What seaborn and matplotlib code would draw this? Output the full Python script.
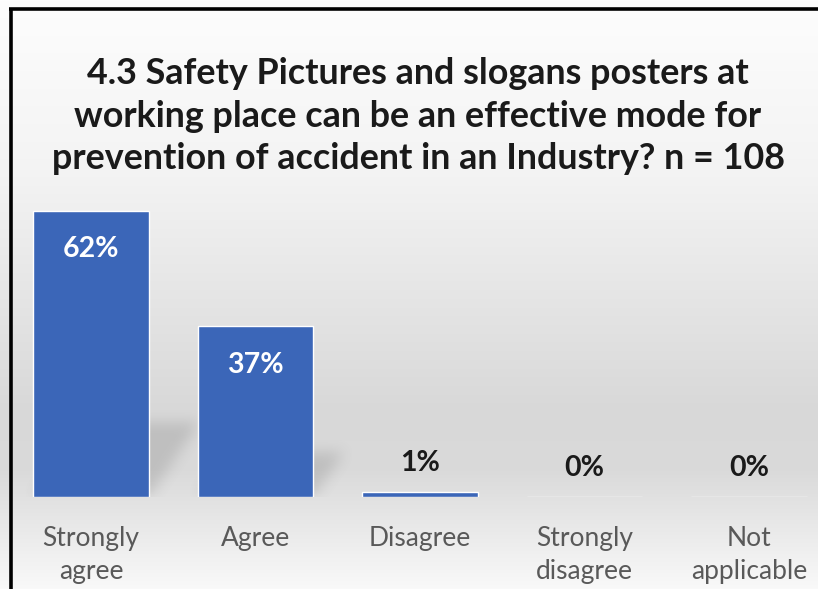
import numpy as np
import pandas as pd
import matplotlib
matplotlib.use("Agg")
import matplotlib.pyplot as plt
from matplotlib.lines import Line2D
import seaborn as sns

categories = ["Strongly\nagree", "Agree", "Disagree", "Strongly\ndisagree", "Not\napplicable"]
percent = [62, 37, 1, 0, 0]
value_labels = ["62%", "37%", "1%", "0%", "0%"]
title = ("4.3 Safety Pictures and slogans posters at\n"
         "working place can be an effective mode for\n"
         "prevention of accident in an Industry? n = 108")

df = pd.DataFrame({"category": categories, "percent": percent})

sns.set_theme(style="white")
plt.rcParams["font.family"] = ["Lato", "DejaVu Sans"]

W, H = 818, 589
fig = plt.figure(figsize=(W / 100, H / 100), dpi=100)
fig.set_size_inches((W + 0.01) / 100, (H + 0.01) / 100)

# background gradient painted straight onto the figure (light top and bottom, grey lower middle)
rows = np.linspace(0, 1, H)
stops_y = [0.0, 0.30, 0.70, 0.80, 1.0]
stops_v = [253, 243, 216, 218, 249]
col = np.interp(rows, stops_y, stops_v) / 255.0
bg = np.repeat(col[:, None], W + 4, axis=1)
bg_rgb = np.dstack([bg, bg, bg])
fig.figimage(bg_rgb, xo=0, yo=0, origin="upper", zorder=0)

# frame lines on the left and top
fig.add_artist(Line2D([10.5 / W, 10.5 / W], [0, 1 - 9 / H], color="black", lw=2.6,
                      solid_capstyle="butt", transform=fig.transFigure))
fig.add_artist(Line2D([9 / W, 1.0], [1 - 9.5 / H, 1 - 9.5 / H], color="black", lw=2.6,
                      solid_capstyle="butt", transform=fig.transFigure))

# plotting area
px_per_unit = 4.613
base_px, top_px = 497, 200
left_px, step_px = 8.75, 164.5
ax = fig.add_axes([left_px / W, (H - base_px) / H, (W - left_px - 1) / W, (base_px - top_px) / H], zorder=1)
ax.patch.set_alpha(0)

bar_color = "#3b66b8"
sns.barplot(data=df, x="category", y="percent", color=bar_color, width=0.705,
            saturation=1, ax=ax, zorder=3)
ymax = (base_px - top_px) / px_per_unit
xmax = -0.5 + (W - left_px - 1) / step_px

# soft perspective shadows cast up and to the right behind each bar
gx = np.linspace(-0.5, xmax, 900)
gy = np.linspace(0, ymax, 330)
X, Y = np.meshgrid(gx, gy)
mask = np.zeros_like(X)
half = 0.705 / 2
skew = 0.0188
for i, v in enumerate(percent):
    if v < 5:
        continue
    sh = 0.26 * v
    inside = (Y <= sh) & (X >= i - half + Y * skew) & (X <= i + half + Y * skew)
    mask = np.maximum(mask, inside.astype(float))


def blur(a, k, axis):
    ker = np.ones(k) / k
    return np.apply_along_axis(lambda r: np.convolve(r, ker, mode="same"), axis, a)


mask = blur(blur(mask, 19, 1), 19, 0)
mask = blur(blur(mask, 15, 1), 15, 0)
shadow = np.zeros(mask.shape + (4,))
shadow[..., :3] = 0.35
shadow[..., 3] = np.clip(mask * 0.2, 0, 1)
ax.imshow(shadow, extent=[-0.5, xmax, 0, ymax], origin="lower", aspect="auto",
          zorder=2, interpolation="bilinear")
ax.set_xlim(-0.5, xmax)
ax.set_ylim(0, ymax)

# value labels
for i, (v, lab) in enumerate(zip(percent, value_labels)):
    if v > 10:
        ax.annotate(lab, (i, v), xytext=(0, -38.5 * 0.72), textcoords="offset points",
                    ha="center", va="center", color="white", fontsize=20.5,
                    fontweight="bold", zorder=5)
    else:
        ax.annotate(lab, (i, v), xytext=(0, 29 * 0.72), textcoords="offset points",
                    ha="center", va="center", color="#1a1a1a", fontsize=20.5,
                    fontweight="bold", zorder=5)

ax.set_xlabel("")
ax.set_ylabel("")
ax.set_yticks([])
ax.tick_params(axis="x", length=0, pad=21, labelsize=19, labelcolor="#595959")
for lbl in ax.get_xticklabels():
    lbl.set_linespacing(1.37)
    lbl.set_verticalalignment("top")
for s in ax.spines.values():
    s.set_visible(False)

fig.text(418 / W, 1 - 116 / H, title, ha="center", va="center", fontsize=25.8,
         fontweight="bold", color="#1a1a1a", linespacing=1.36)

fig.savefig("out.png", dpi=100)
